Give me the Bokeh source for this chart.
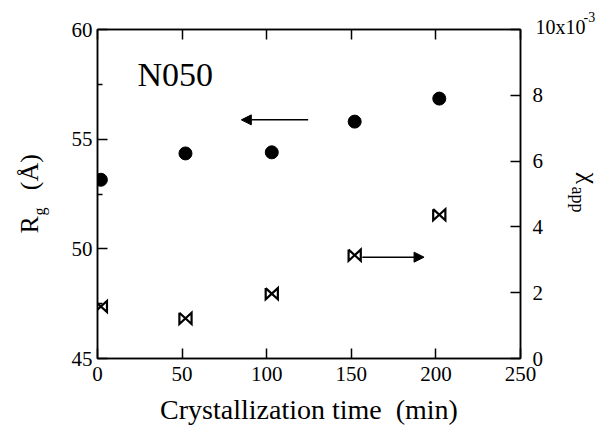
import numpy as np
from bokeh.plotting import figure
from bokeh.models import (Range1d, LinearAxis, FixedTicker, Label, Arrow,
                          NormalHead)
from bokeh.embed import file_html
from bokeh.resources import INLINE

# ---- data ----
time_min = [2, 52, 103, 152, 202]
rg_angstrom = [53.15, 54.35, 54.4, 55.8, 56.85]
chi_time_min = [2, 52, 103, 152, 202]
chi_app_e3 = [1.58, 1.22, 1.97, 3.14, 4.37]   # in units of 1e-3

x_ticks = [0, 50, 100, 150, 200, 250]
rg_ticks = [45, 50, 55, 60]
rg_minor = [47.5, 52.5, 57.5]
chi_ticks = [0, 2, 4, 6, 8, 10]
chi_tick_labels = {10: ""}          # top label drawn as "10x10^-3" below

sample_name = "N050"
x_title = "Crystallization time\u00a0\u00a0(min)"

# arrow annotations (data coordinates)
rg_arrow = dict(x_start=124.5, x_end=85, y=55.88)
chi_arrow = dict(x_start=156.5, x_end=193, y=3.08)

FONT = "Liberation Serif"
W, H = 604, 427
L, R, T, B = 97, 84, 29, 69
X0, X1, Y0, Y1 = 0, 250, 45, 60

p = figure(width=W, height=H, x_range=Range1d(X0, X1), y_range=Range1d(Y0, Y1),
           output_backend="svg", toolbar_location=None,
           x_axis_location=None, y_axis_location=None,
           min_border_left=L, min_border_right=R, min_border_top=T,
           min_border_bottom=B, background_fill_color="white",
           border_fill_color="white")
p.extra_y_ranges = {"chi": Range1d(0, 10)}
p.outline_line_color = "black"
p.outline_line_width = 1.5
p.grid.visible = False


def style_axis(ax, tick_in=10, minor_in=5, standoff=5, labels=True):
    ax.axis_line_color = "black"
    ax.axis_line_width = 1.5
    ax.major_tick_in = tick_in
    ax.major_tick_out = 0
    ax.major_tick_line_width = 1.5
    ax.major_tick_line_color = "black"
    ax.minor_tick_in = minor_in
    ax.minor_tick_out = 0
    ax.minor_tick_line_width = 1.5
    ax.minor_tick_line_color = "black"
    ax.major_label_text_font = FONT
    ax.major_label_text_font_size = "21px"
    ax.major_label_text_color = "black" if labels else None
    ax.major_label_standoff = standoff


left = LinearAxis(ticker=FixedTicker(ticks=rg_ticks, minor_ticks=rg_minor))
style_axis(left, standoff=5)
p.add_layout(left, "left")

bottom = LinearAxis(ticker=FixedTicker(ticks=x_ticks, minor_ticks=[]))
style_axis(bottom, standoff=8)
bottom.axis_label = x_title
bottom.axis_label_text_font = FONT
bottom.axis_label_text_font_size = "28px"
bottom.axis_label_text_font_style = "normal"
bottom.axis_label_text_color = "black"
bottom.axis_label_standoff = 10
p.add_layout(bottom, "below")

top = LinearAxis(ticker=FixedTicker(ticks=x_ticks, minor_ticks=[]))
style_axis(top, labels=False)
top.major_label_text_font_size = "1px"
top.major_label_standoff = 0
p.add_layout(top, "above")

right = LinearAxis(y_range_name="chi",
                   ticker=FixedTicker(ticks=chi_ticks, minor_ticks=[]))
style_axis(right, standoff=12)
right.major_label_overrides = chi_tick_labels
p.add_layout(right, "right")

# ---- Rg: filled circles ----
p.scatter(time_min, rg_angstrom, marker="circle", size=13,
          fill_color="black", line_color="black")

# ---- chi_app: bowtie markers built from the data points ----
dx, dy = 3.6, 0.17
t = np.array(chi_time_min, dtype=float)
c = np.array(chi_app_e3, dtype=float)
xs = [[ti - dx, ti - dx, ti + dx, ti + dx, ti - dx] for ti in t]
ys = [[ci + dy, ci - dy, ci + dy, ci - dy, ci + dy] for ci in c]
p.multi_line(xs=xs, ys=ys, y_range_name="chi", line_color="black",
             line_width=2.2, line_join="miter")

# ---- arrows ----
p.add_layout(Arrow(end=NormalHead(size=10, fill_color="black", line_color="black"),
                   x_start=rg_arrow["x_start"], y_start=rg_arrow["y"],
                   x_end=rg_arrow["x_end"], y_end=rg_arrow["y"],
                   line_width=1.5, line_color="black"))
p.add_layout(Arrow(end=NormalHead(size=10, fill_color="black", line_color="black"),
                   x_start=chi_arrow["x_start"], y_start=chi_arrow["y"],
                   x_end=chi_arrow["x_end"], y_end=chi_arrow["y"],
                   y_range_name="chi", line_width=1.5, line_color="black"))

FW, FH = W - L - R, H - T - B
MID = 0.36  # distance baseline -> rendered anchor, in em


def to_data(cx, cy):
    """canvas px -> primary data coordinates (extrapolated outside frame)."""
    x = X0 + (cx - L) * (X1 - X0) / FW
    y = Y0 + (H - B - cy) * (Y1 - Y0) / FH
    return x, y


def lab(text, cx, cy, size, rot=0, place="center"):
    """(cx, cy): start of the text on its baseline, canvas px.
    rot: 0 horizontal, +1 rotated CCW (reads upward), -1 rotated CW."""
    if rot == 0:
        cy = cy - MID * size
    elif rot == 1:
        cx = cx - MID * size
    else:
        cx = cx + MID * size
    x, y = to_data(cx, cy)
    label = Label(x=x, y=y, text=text, text_font=FONT,
                  text_font_size=f"{size}px", text_color="black",
                  angle=rot * np.pi / 2, text_align="left",
                  text_baseline="alphabetic")
    if place == "center":
        p.add_layout(label)
    else:
        p.add_layout(label, place)


# sample name (inside the frame)
lab(sample_name, 137, 86.5, 34)
# left title R_g (Å), rotated CCW
lab("R\u00a0\u00a0\u00a0\u00a0(Å)", 38, 233, 26, rot=1, place="left")
lab("g", 45, 215, 16, rot=1, place="left")
# top right tick label with exponent
lab("10x10", 535, 34, 20, place="above")
lab("-3", 583, 22, 14, place="left")
# right title chi_app, rotated CW
lab("χ", 580, 172, 26, rot=-1, place="right")
lab("app", 571, 186, 18, rot=-1, place="right")

open("out.html", "w").write(file_html(p, INLINE))
